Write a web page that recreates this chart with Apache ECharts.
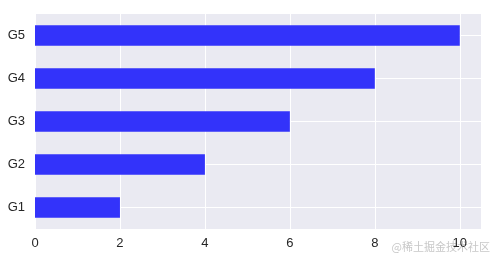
<!DOCTYPE html>
<html><head><meta charset="utf-8">
<script src="https://cdn.jsdelivr.net/npm/echarts@6/dist/echarts.min.js"></script>
<style>html,body{margin:0;padding:0;background:#fff}#c{width:493px;height:259px}</style>
</head><body><div id="c"></div>
<script>
const categories = ['G1','G2','G3','G4','G5'];
const values = [2,4,6,8,10];
const xTicks = [0,2,4,6,8,10];

const chart = echarts.init(document.getElementById('c'), null, {renderer:'canvas'});
chart.setOption({
  animation:false,
  backgroundColor:'#ffffff',
  grid:{left:35,right:12,top:14,bottom:30,show:true,backgroundColor:'#EAEAF2',borderWidth:0},
  xAxis:{type:'value',min:0,max:10.5,interval:2,
    axisLine:{show:false},axisTick:{show:false},
    splitLine:{lineStyle:{color:'#ffffff',width:1}},
    axisLabel:{color:'#262626',fontSize:13,fontFamily:'Liberation Sans, Arial',margin:8,
      formatter:v=> xTicks.includes(v)? String(v):''}},
  yAxis:{type:'category',data:categories,
    axisLine:{show:false},axisTick:{show:false},splitLine:{show:false},
    axisLabel:{color:'#262626',fontSize:13,fontFamily:'Liberation Sans, Arial',margin:10}},
  series:[
    {type:'line',data:[],z:1,silent:true,
      markLine:{z:1,silent:true,symbol:['none','none'],label:{show:false},
        lineStyle:{color:'#ffffff',width:1,type:'solid'},
        data:categories.map(c=>({yAxis:c}))}},
    {type:'bar',data:values,barWidth:'48%',z:3,
      itemStyle:{color:'#3333FA'}}
  ],
  graphic:[{type:'text',right:3,bottom:7,style:{text:'@稀土掘金技术社区',fill:'#c8c8c8',font:'11px "Noto Sans CJK SC"'}}]
});
</script></body></html>
